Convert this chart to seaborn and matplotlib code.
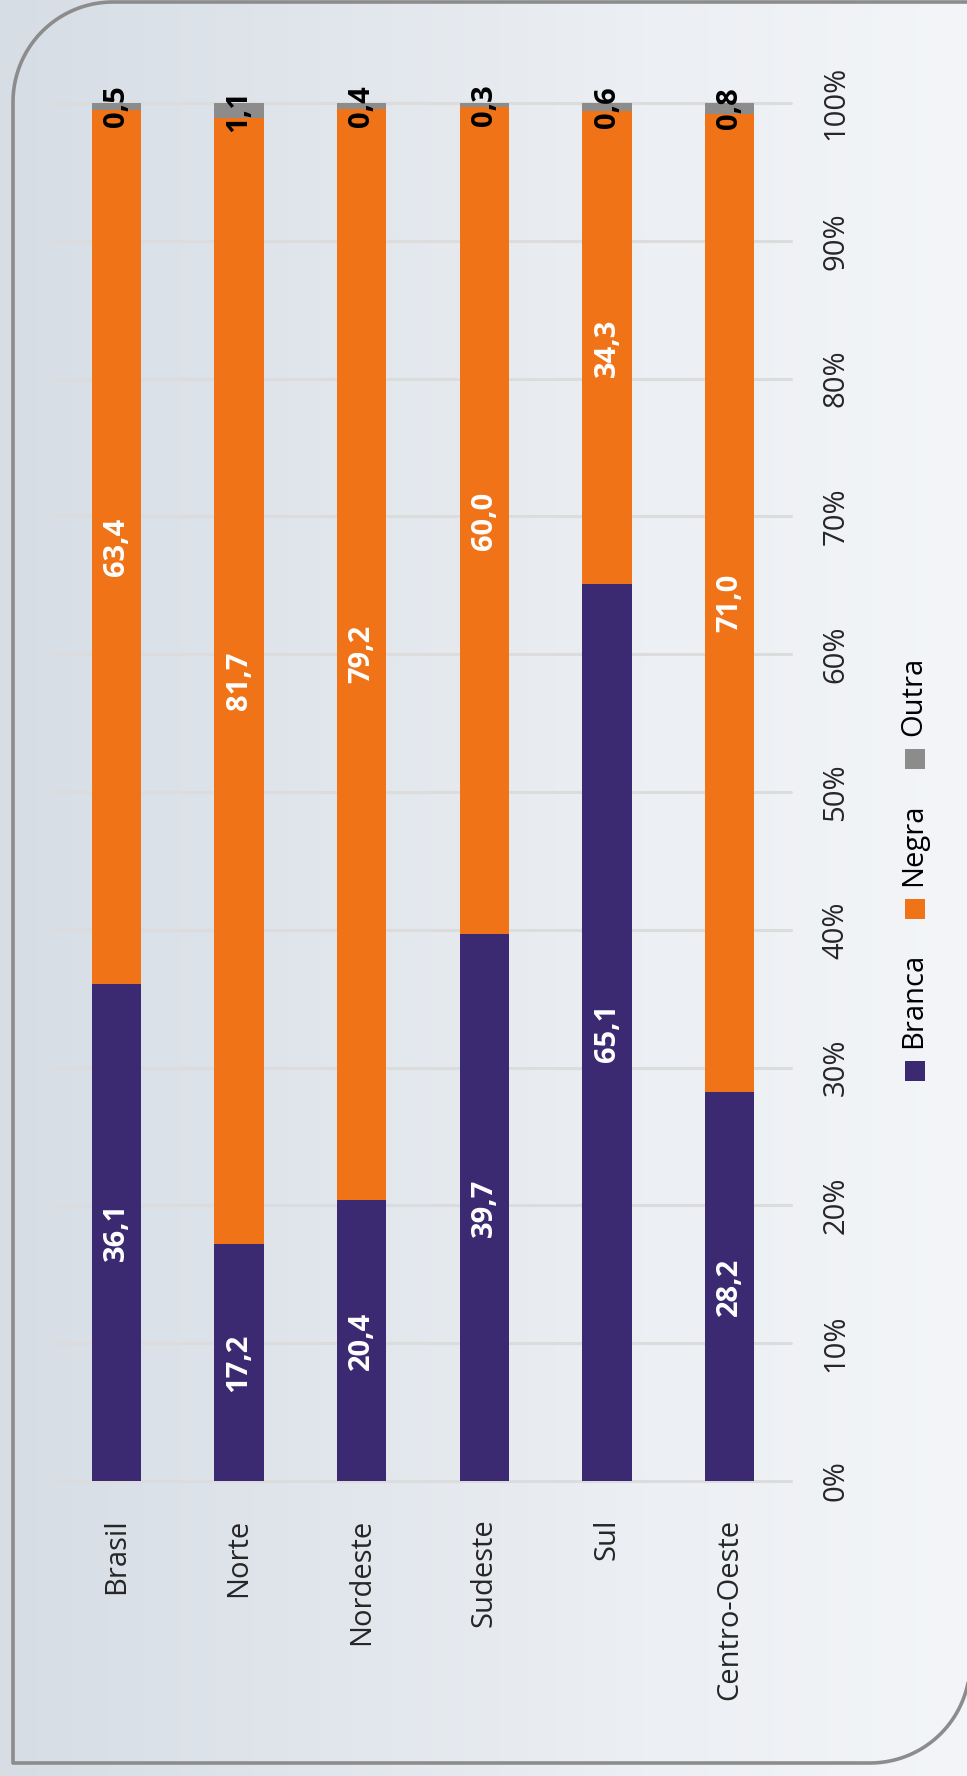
import numpy as np
import pandas as pd
import matplotlib
matplotlib.use('Agg')
import matplotlib.pyplot as plt
import seaborn as sns
from matplotlib.colors import LinearSegmentedColormap
from matplotlib.patches import Rectangle

# Data
regioes = ['Brasil', 'Norte', 'Nordeste', 'Sudeste', 'Sul', 'Centro-Oeste']
branca = [36.1, 17.2, 20.4, 39.7, 65.1, 28.2]
negra = [63.4, 81.7, 79.2, 60.0, 34.3, 71.0]
outra = [0.5, 1.1, 0.4, 0.3, 0.6, 0.8]
series = ['Branca', 'Negra', 'Outra']
cores = ['#3b2a72', '#f07318', '#8c8c8c']
ticks_pct = list(range(0, 101, 10))

df = pd.DataFrame({'Regiao': regioes, 'Branca': branca, 'Negra': negra, 'Outra': outra})
df['topo_negra'] = df['Branca'] + df['Negra']
df['topo_outra'] = df['topo_negra'] + df['Outra']

sns.set_style('white')
plt.rcParams['font.family'] = ['Open Sans', 'DejaVu Sans']

W, H = 967, 1776
fig = plt.figure(figsize=(W / 100, H / 100), dpi=100)

# Background (pixel coordinates)
bg = fig.add_axes([0, 0, 1, 1], zorder=0)
cmap = LinearSegmentedColormap.from_list('fundo', ['#d6dde5', '#e1e6ec', '#eceff3', '#f3f5f8'])
bg.imshow(np.linspace(0, 1, 256)[None, :], extent=[0, W, H, 0], aspect='auto', cmap=cmap)
bg.set_xlim(0, W)
bg.set_ylim(H, 0)
bg.axis('off')

# Frame: rounded top-left and bottom-right corners, right side off the page
def arco(cx, cy, r, a0, a1):
    t = np.radians(np.linspace(a0, a1, 40))
    return cx + r * np.cos(t), cy + r * np.sin(t)

esq, topo, base, dir_, r = 13, 2, 1763, 970, 100
x1, y1 = arco(esq + r, topo + r, r, 270, 180)
x2, y2 = arco(dir_ - r, base - r, r, 90, 0)
fx = np.concatenate([[W + 20], x1, [esq], x2, [dir_]])
fy = np.concatenate([[topo], y1, [base], y2, [-20]])
bg.plot(fx, fy, color='#8c8c8c', lw=2.6, solid_joinstyle='round')

# Main chart (rotated layout: bars go upwards)
ax = fig.add_axes([55 / W, 1 - 1481 / H, 736 / W, 1378 / H], zorder=1)
ax.patch.set_alpha(0)

for col, cor in zip(['topo_outra', 'topo_negra', 'Branca'], cores[::-1]):
    sns.barplot(data=df, x='Regiao', y=col, color=cor, width=0.4, saturation=1,
                errorbar=None, linewidth=0, ax=ax)

ax.set_xlim(-0.5, 5.5)
ax.set_ylim(0, 100)
ax.set_xlabel('')
ax.set_ylabel('')
ax.set_yticks(ticks_pct)
ax.set_yticklabels([f'{v}%' for v in ticks_pct])
ax.yaxis.tick_right()
ax.grid(axis='y', color='#dcdcdc', lw=2.2)
ax.set_axisbelow(True)
for gl in ax.get_ygridlines():
    gl.set_clip_on(False)
sns.despine(ax=ax, left=True, bottom=True)

ax.tick_params(axis='y', length=0, pad=22, labelrotation=90, labelsize=21)
ax.tick_params(axis='x', length=0, pad=27, labelrotation=90, labelsize=21)
for lbl in ax.get_yticklabels():
    lbl.set_va('center')
    lbl.set_ha('left')
for lbl in ax.get_xticklabels():
    lbl.set_va('top')
    lbl.set_ha('center')

# Value labels
for i, row in df.iterrows():
    base_seg = 0
    for nome, cor_txt in zip(series, ['white', 'white', 'black']):
        v = row[nome]
        ax.text(i, base_seg + v / 2, f'{v:.1f}'.replace('.', ','), rotation=90,
                ha='center', va='center', color=cor_txt, fontsize=21, fontweight='bold')
        base_seg += v

# Legend (rotated, drawn by hand)
renderer = fig.canvas.get_renderer()
y = 1081
for nome, cor in zip(series, cores):
    bg.add_patch(Rectangle((905, y - 20), 20, 20, color=cor, lw=0))
    t = bg.text(914, y - 33, nome, rotation=90, ha='center', va='bottom',
                fontsize=21, color='black')
    h = t.get_window_extent(renderer).height
    y = y - 33 - h - 34

fig.savefig('out.png', dpi=100)
